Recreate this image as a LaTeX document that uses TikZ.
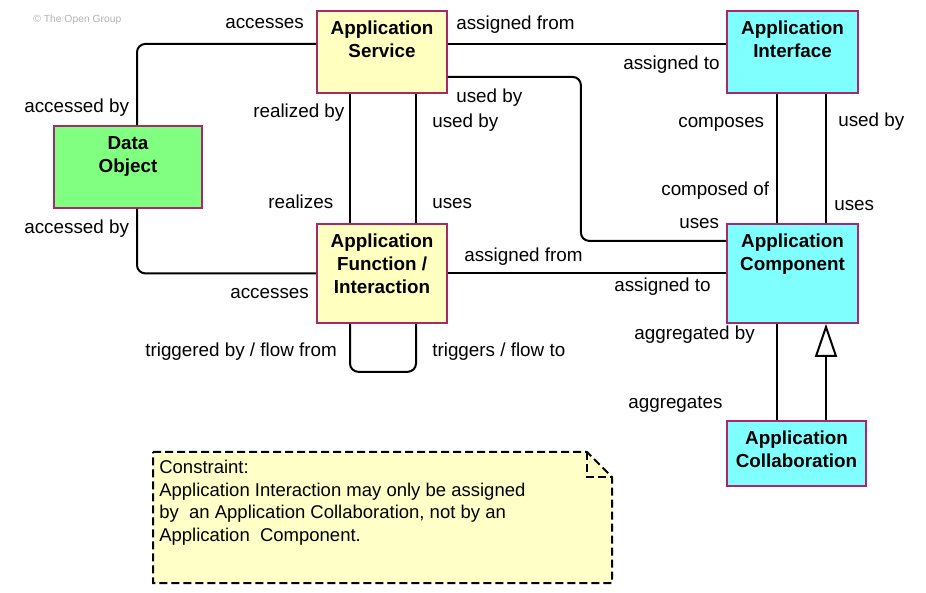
\documentclass[tikz,border=0pt]{standalone}
\usepackage{fontspec}
\setmainfont{Liberation Sans}
\usetikzlibrary{arrows.meta}
\definecolor{svcyellow}{RGB}{255,255,192}
\definecolor{cmpcyan}{RGB}{128,255,255}
\definecolor{objgreen}{RGB}{128,255,128}
\definecolor{elemborder}{RGB}{168,40,110}
\definecolor{noteyellow}{RGB}{255,255,200}

\begin{document}
\begin{tikzpicture}[x=0.6pt, y=-0.6pt,
  elem/.style={draw=elemborder, line width=1.1pt, anchor=north, align=center, inner sep=0pt,
    font=\fontsize{11.3}{13.8}\selectfont\bfseries},
  lbl/.style={anchor=base west, inner sep=0pt, font=\fontsize{11.3}{13.8}\selectfont},
  conn/.style={line width=1.2pt, rounded corners=5pt}]
  \useasboundingbox (0,0) rectangle (926,593);

  % copyright
  \node[anchor=base west, inner sep=0pt, text=black!30, font=\fontsize{6.2}{7}\selectfont] (copy) at (33,23) {\textcopyright\ The Open Group};

  % elements
  \node[elem, fill=svcyellow, minimum width=78pt, text height=27.8pt, text depth=21.4pt] (aserv) at (382,10) {Application\\Service};
  \node[elem, fill=cmpcyan, minimum width=78.6pt, text height=27.8pt, text depth=21.4pt] (aintf) at (792.5,10) {Application\\Interface};
  \node[elem, fill=objgreen, minimum width=88.8pt, text height=27.8pt, text depth=21.4pt] (dobj) at (128,125) {Data\\Object};
  \node[elem, fill=svcyellow, minimum width=78pt, text height=41.6pt, text depth=17.8pt] (afunc) at (382,223) {Application\\Function /\\Interaction};
  \node[elem, fill=cmpcyan, minimum width=78.6pt, text height=27.8pt, text depth=31.6pt] (acomp) at (792.5,223) {Application\\Component};
  \node[elem, fill=cmpcyan, minimum width=83.4pt, text height=27.8pt, text depth=11.2pt] (acoll) at (796.5,420) {Application\\Collaboration};

  % relations
  \draw[conn] ([xshift=5.4pt]dobj.north) |- ([yshift=4.8pt]aserv.west);
  \draw[conn] ([xshift=5.4pt]dobj.south) |- (afunc.west);
  \draw[conn] ([yshift=4.8pt]aserv.east) -- ([yshift=4.8pt]aintf.west);
  \draw[conn] ([yshift=-15pt]aserv.east) -- ++(79.8pt,0) |- ([yshift=19.5pt]acomp.west);
  \draw[conn] ([xshift=-19.2pt]aserv.south) -- ([xshift=-19.2pt]afunc.north);
  \draw[conn] ([xshift=20.4pt]aserv.south) -- ([xshift=20.4pt]afunc.north);
  \draw[conn] (afunc.east) -- (acomp.west);
  \draw[conn] ([xshift=-19.2pt]afunc.south) -- ++(0,-28.8pt) -| ([xshift=20.4pt]afunc.south);
  \draw[conn] ([xshift=-9.3pt]aintf.south) -- ([xshift=-9.3pt]acomp.north);
  \draw[conn] ([xshift=20.1pt]aintf.south) -- ([xshift=20.1pt]acomp.north);
  \draw[conn] ([xshift=-9.3pt]acomp.south) -- ([xshift=-9.3pt]acomp.south |- acoll.north);
  \draw[line width=1.2pt, -{Triangle[open, fill=white, width=13.2pt, length=19.8pt]}]
    ([xshift=20.1pt]acomp.south |- acoll.north) -- ([xshift=20.1pt]acomp.south);

  % relation labels
  \node[lbl] (l1) at (225,29) {accesses};
  \node[lbl] (l2) at (456,30) {assigned from};
  \node[lbl] (l3) at (623,70) {assigned to};
  \node[lbl] (l4) at (24,113) {accessed by};
  \node[lbl] (l5) at (253,118) {realized by};
  \node[lbl] (l6) at (456,103) {used by};
  \node[lbl] (l7) at (432,128) {used by};
  \node[lbl] (l8) at (678,128) {composes};
  \node[lbl] (l9) at (838,127) {used by};
  \node[lbl] (l10) at (268,209) {realizes};
  \node[lbl] (l11) at (432,209) {uses};
  \node[lbl] (l12) at (661,196) {composed of};
  \node[lbl] (l13) at (679,229) {uses};
  \node[lbl] (l14) at (834,211) {uses};
  \node[lbl] (l15) at (24,234) {accessed by};
  \node[lbl] (l16) at (464,262) {assigned from};
  \node[lbl] (l17) at (230,299) {accesses};
  \node[lbl] (l18) at (614,292) {assigned to};
  \node[lbl] (l19) at (145,357) {triggered by / flow from};
  \node[lbl] (l20) at (432,357) {triggers / flow to};
  \node[lbl] (l21) at (634,340) {aggregated by};
  \node[lbl] (l22) at (628,409) {aggregates};

  % constraint note
  \filldraw[fill=noteyellow, line width=1.2pt, dash pattern=on 4.8pt off 2.4pt]
    (153,452) -- (587,452) -- (612,477) -- (612,583) -- (153,583) -- cycle;
  \draw[line width=1.2pt, dash pattern=on 4.8pt off 2.4pt] (587,452) -- (587,477) -- (612,477);
  \node[anchor=north west, inner sep=0pt, align=left, font=\fontsize{11.1}{13.5}\selectfont] (note) at (159,460)
    {Constraint:\\Application Interaction may only be assigned\\by\ \ an Application Collaboration, not by an\\Application\ \ Component.};
\end{tikzpicture}
\end{document}
